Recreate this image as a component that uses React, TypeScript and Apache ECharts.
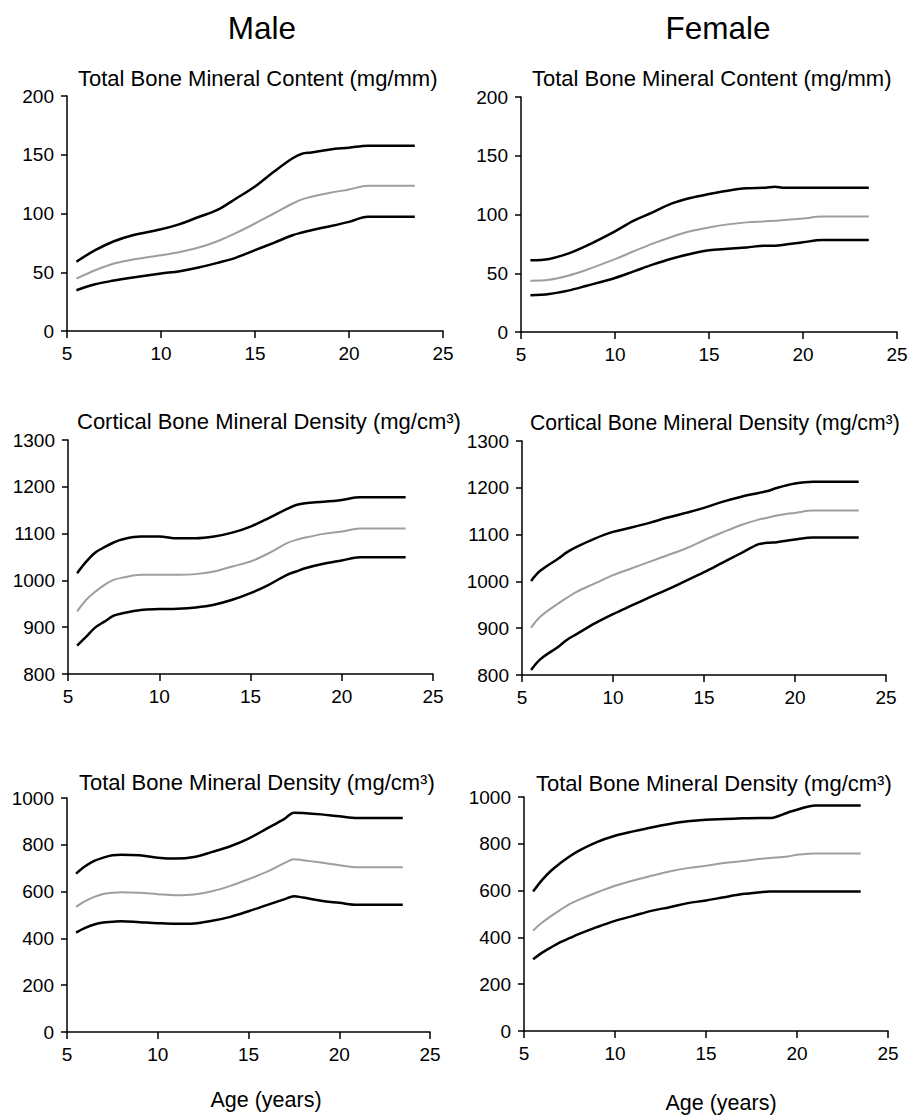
import React, { useEffect, useRef } from "react";
import * as echarts from "echarts";

// Panel 1: Male, Total Bone Mineral Content (mg/mm)
const maleBmcAges = [5.5, 6.5, 7.5, 8.5, 10, 11, 12, 13, 14, 15, 16, 17, 17.5, 18, 19, 20, 21, 23.5];
const maleBmcUpper = [59, 68.8, 76.4, 81.5, 86.6, 91, 97, 103, 112.8, 123, 135.5, 147, 150.9, 152, 154.5, 156, 157.7, 157.7];
const maleBmcMedian = [44.6, 51.7, 57.4, 60.8, 64.5, 67.3, 71, 76.4, 83.5, 91.5, 100, 108.5, 112, 114.2, 117.6, 120.5, 123.6, 123.6];
const maleBmcLower = [34.7, 39.8, 42.9, 45.5, 48.9, 50.9, 54, 58, 62.5, 68.8, 75, 81.5, 83.8, 85.8, 89.2, 92.9, 97.2, 97.2];

// Panel 2: Female, Total Bone Mineral Content (mg/mm)
const femaleBmcAges = [5.5, 6.5, 7.5, 8.5, 10, 11, 12, 13, 14, 15, 16, 17, 18, 18.5, 19, 20, 21, 23.5];
const femaleBmcUpper = [61, 62.2, 66.7, 73.5, 85.7, 94.8, 101.8, 109.2, 114, 117.4, 120.3, 122.3, 122.8, 123.7, 122.8, 122.8, 122.8, 122.8];
const femaleBmcMedian = [43.7, 44.5, 47.9, 53, 62, 68.7, 75.2, 80.9, 85.7, 89, 91.6, 93.3, 94.2, 94.7, 95.3, 96.5, 98.2, 98.2];
const femaleBmcLower = [31.2, 32.3, 35.2, 39.4, 46, 51.6, 57.3, 62.4, 66.4, 69.5, 70.8, 72, 73.5, 73.5, 74.2, 76.3, 78.3, 78.3];

// Panel 3: Male, Cortical Bone Mineral Density (mg/cm3)
const maleCortAges = [5.5, 6, 6.5, 7, 7.5, 8, 9, 10, 11, 12, 13, 14, 15, 16, 17, 17.5, 18, 19, 20, 21, 23.5];
const maleCortUpper = [1015.5, 1040, 1059.6, 1071, 1081, 1088, 1093.7, 1093.7, 1090, 1090, 1093.7, 1102, 1115, 1133, 1152.8, 1161, 1165, 1168, 1172, 1177.7, 1177.7];
const maleCortMedian = [933.7, 958.6, 976, 990.6, 1001, 1006, 1012, 1012, 1012, 1013.4, 1019, 1029.7, 1040.4, 1058, 1079.5, 1086.6, 1091.6, 1099.4, 1104.4, 1110.8, 1110.8];
const maleCortLower = [860.5, 880, 899.6, 912, 924.5, 930, 937, 938.7, 939.4, 942.2, 948, 958.6, 972.8, 990.6, 1012, 1019, 1026, 1035.4, 1042.5, 1049.6, 1049.6];

// Panel 4: Female, Cortical Bone Mineral Density (mg/cm3)
const femaleCortAges = [5.5, 6, 7, 7.5, 8, 9, 10, 11, 12, 13, 14, 15, 16, 17, 18, 18.5, 19, 20, 21, 23.5];
const femaleCortUpper = [1001, 1022.6, 1049, 1063, 1073.8, 1091.6, 1105.8, 1115, 1125, 1136.4, 1146.4, 1157, 1170, 1180.5, 1189, 1193, 1199.6, 1209, 1213, 1213];
const femaleCortMedian = [901, 924.5, 953, 965.7, 977.8, 995.6, 1013.4, 1027.6, 1041.8, 1056, 1070.3, 1088, 1104.4, 1120, 1132, 1136, 1140.7, 1146.4, 1151.3, 1151.3];
const femaleCortLower = [810.7, 833.4, 860.5, 876, 887.5, 910.2, 930, 948, 965.7, 982.8, 1001.3, 1019.8, 1039.7, 1059.6, 1079.5, 1082.4, 1083.8, 1089.5, 1093.7, 1093.7];

// Panel 5: Male, Total Bone Mineral Density (mg/cm3)
const maleTotAges = [5.5, 6, 6.5, 7, 7.5, 8, 9, 10, 11, 12, 13, 14, 15, 16, 17, 17.5, 18, 19, 20, 21, 23.5];
const maleTotUpper = [677, 708, 731, 745, 755, 758, 755, 745, 741, 748, 769.6, 793.7, 826.5, 869, 912, 937.4, 936, 930, 921.8, 914.6, 914.6];
const maleTotMedian = [535, 559, 577.5, 590, 594.6, 597.4, 594.6, 589, 584.6, 587.5, 601.7, 624.5, 653, 684, 722.6, 738.3, 734, 724, 712.7, 704, 704];
const maleTotLower = [425, 445, 459.5, 468, 471, 473.7, 469.4, 465, 462.3, 463.7, 475, 492, 516, 542, 567.6, 580, 574.7, 560.5, 552, 543.4, 543.4];

// Panel 6: Female, Total Bone Mineral Density (mg/cm3)
const femaleTotAges = [5.5, 6, 6.5, 7, 7.5, 8, 9, 10, 11, 12, 13, 14, 15, 16, 17, 18, 18.5, 19.5, 20, 21, 23.5];
const femaleTotUpper = [596, 646, 686, 717.5, 746, 770, 807.4, 834.5, 853, 870, 884.5, 896, 903, 906, 908.7, 910, 910, 934, 945.8, 964, 964];
const femaleTotMedian = [429.4, 463.6, 492, 518, 542, 560.6, 592, 620.5, 643.4, 663.3, 682, 696, 706, 717.5, 726, 736, 739.5, 746, 753, 759, 759];
const femaleTotLower = [306.7, 335, 358, 379.5, 396.6, 413.7, 443.7, 470.8, 492, 513.5, 529.2, 546.4, 557.8, 572, 585, 593.4, 596.3, 596.3, 596.3, 596.3, 596.3];

const columnTitles = ["Male", "Female"];
const panelTitles = [
  "Total Bone Mineral Content (mg/mm)",
  "Total Bone Mineral Content (mg/mm)",
  "Cortical Bone Mineral Density (mg/cm\u00B3)",
  "Cortical Bone Mineral Density (mg/cm\u00B3)",
  "Total Bone Mineral Density (mg/cm\u00B3)",
  "Total Bone Mineral Density (mg/cm\u00B3)",
];
const xAxisTitle = "Age (years)";
const xTicks = { min: 5, max: 25, interval: 5 };
const yTicks = [
  { min: 0, max: 200, interval: 50 },
  { min: 0, max: 200, interval: 50 },
  { min: 800, max: 1300, interval: 100 },
  { min: 800, max: 1300, interval: 100 },
  { min: 0, max: 1000, interval: 200 },
  { min: 0, max: 1000, interval: 200 },
];

const panels = [
  { ages: maleBmcAges, upper: maleBmcUpper, median: maleBmcMedian, lower: maleBmcLower },
  { ages: femaleBmcAges, upper: femaleBmcUpper, median: femaleBmcMedian, lower: femaleBmcLower },
  { ages: maleCortAges, upper: maleCortUpper, median: maleCortMedian, lower: maleCortLower },
  { ages: femaleCortAges, upper: femaleCortUpper, median: femaleCortMedian, lower: femaleCortLower },
  { ages: maleTotAges, upper: maleTotUpper, median: maleTotMedian, lower: maleTotLower },
  { ages: femaleTotAges, upper: femaleTotUpper, median: femaleTotMedian, lower: femaleTotLower },
];

// layout (pixels)
const grids = [
  { left: 67, top: 96, width: 376, height: 235 },
  { left: 521, top: 97, width: 376, height: 235 },
  { left: 68, top: 440, width: 365, height: 234 },
  { left: 522, top: 441, width: 364, height: 234 },
  { left: 67, top: 798, width: 363, height: 234 },
  { left: 524, top: 797, width: 364, height: 234 },
];
const titlePos = [
  [78, 78, 22],
  [532, 78, 22],
  [77, 421, 22],
  [530, 422, 21.2],
  [79, 782, 22],
  [536, 783, 22],
];

const FONT = '"Liberation Sans", Arial, Helvetica, sans-serif';

export default function App() {
  const ref = useRef<HTMLDivElement>(null);
  useEffect(() => {
    if (!ref.current) return;
    const chart = echarts.init(ref.current, null, { renderer: "svg" });
    const axisLine = { show: true, lineStyle: { color: "#000", width: 1.5 } };
    const xAxis = grids.map((_, i) => ({
      type: "value",
      gridIndex: i,
      min: xTicks.min,
      max: xTicks.max,
      interval: xTicks.interval,
      axisLine,
      axisTick: { show: true, length: 7, lineStyle: { color: "#000", width: 1.5 } },
      axisLabel: { color: "#000", fontSize: 19, fontFamily: FONT, margin: 13, formatter: (v: number) => String(v) },
      splitLine: { show: false },
    }));
    const yAxis = grids.map((_, i) => ({
      type: "value",
      gridIndex: i,
      min: yTicks[i].min,
      max: yTicks[i].max,
      interval: yTicks[i].interval,
      axisLine,
      axisTick: { show: true, length: 6, lineStyle: { color: "#000", width: 1.5 } },
      axisLabel: { color: "#000", fontSize: 19, fontFamily: FONT, margin: 13, formatter: (v: number) => String(v) },
      splitLine: { show: false },
    }));
    const series: any[] = [];
    panels.forEach((p, i) => {
      const mk = (vals: number[], color: string, width: number) => ({
        type: "line",
        xAxisIndex: i,
        yAxisIndex: i,
        data: p.ages.map((a, k) => [a, vals[k]]),
        showSymbol: false,
        symbol: "none",
        smooth: 0.35,
        lineStyle: { color, width },
        silent: true,
      });
      series.push(mk(p.upper, "#000", 2.5));
      series.push(mk(p.median, "#9e9e9e", 2));
      series.push(mk(p.lower, "#000", 2.5));
    });
    const graphic: any[] = [];
    titlePos.forEach(([x, y, fs], i) => {
      graphic.push({
        type: "text",
        x,
        y,
        style: {
          text: panelTitles[i],
          fill: "#000",
          font: `${fs}px ${FONT}`,
          textAlign: "left",
          textVerticalAlign: "middle",
          align: "left",
          verticalAlign: "middle",
        },
      });
    });
    [[262, 28], [718, 28]].forEach(([x, y], i) => {
      graphic.push({
        type: "text",
        x,
        y,
        style: {
          text: columnTitles[i],
          fill: "#000",
          font: `31.5px ${FONT}`,
          textAlign: "center",
          textVerticalAlign: "middle",
          align: "center",
          verticalAlign: "middle",
        },
      });
    });
    [[266, 1100], [721, 1103]].forEach(([x, y]) => {
      graphic.push({
        type: "text",
        x,
        y,
        style: {
          text: xAxisTitle,
          fill: "#000",
          font: `21.5px ${FONT}`,
          textAlign: "center",
          textVerticalAlign: "middle",
          align: "center",
          verticalAlign: "middle",
        },
      });
    });
    chart.setOption({
      animation: false,
      backgroundColor: "#fff",
      grid: grids.map((g) => ({ ...g, containLabel: false, outerBoundsMode: "none" })),
      xAxis,
      yAxis,
      series,
      graphic,
    });
    return () => chart.dispose();
  }, []);
  return (
    <div
      ref={ref}
      style={{ position: "absolute", left: 0, top: 0, width: 911, height: 1116, background: "#fff" }}
    />
  );
}
